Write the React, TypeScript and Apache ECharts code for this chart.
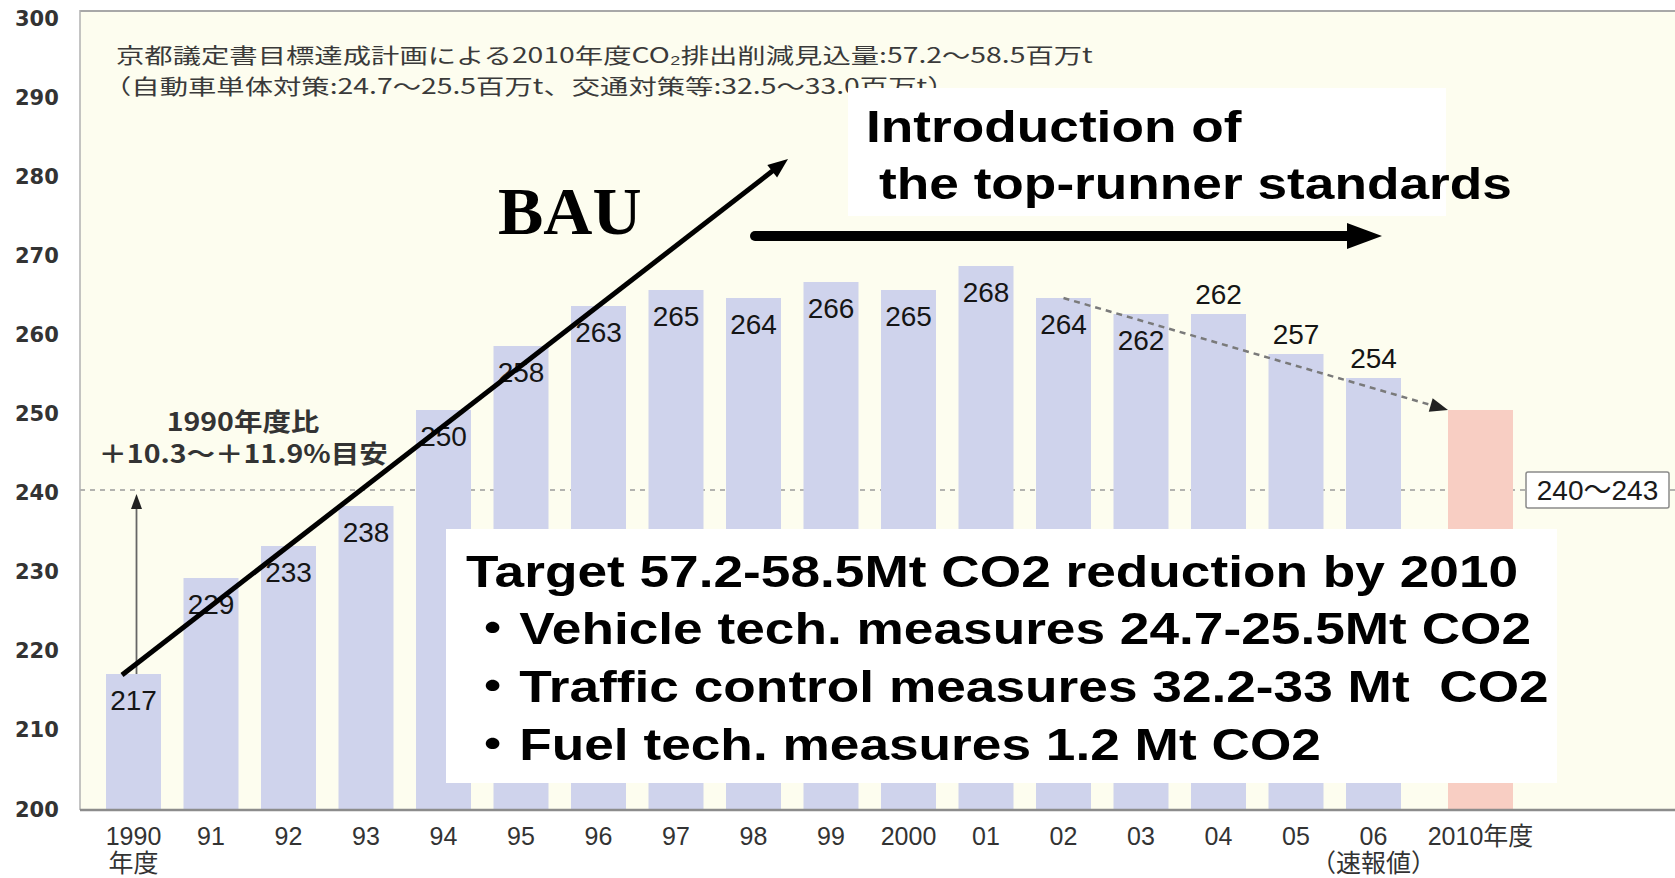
import React, { useEffect, useRef } from 'react';
import * as echarts from 'echarts';

// ---------- data ----------
const yearLabels = ['1990\n年度', '91', '92', '93', '94', '95', '96', '97', '98', '99', '2000', '01', '02', '03', '04', '05', '06\n（速報値）'];
const emissions = [217, 229, 233, 238, 250, 258, 263, 265, 264, 266, 265, 268, 264, 262, 262, 257, 254];
const labelOnTop = [false, false, false, false, false, false, false, false, false, false, false, false, false, false, true, true, true];
const targetYearLabels = ['2010年度'];
const targetEmissions = [250];
const targetLevel = 240;
const targetRangeLabel = '240～243';
const trendStartIndex = 12;
const trendStartValue = 264;
const baseYearIndex = 0;
const baseYearValue = 217;
const yTickValues = [200, 210, 220, 230, 240, 250, 260, 270, 280, 290, 300];
const yMin = 200;
const yMax = 300;
const yStep = 10;

const headerLines = [
  '京都議定書目標達成計画による2010年度CO₂排出削減見込量:57.2～58.5百万t',
  '（自動車単体対策:24.7～25.5百万t、交通対策等:32.5～33.0百万t）',
];
const compareLines = ['1990年度比', '＋10.3～＋11.9%目安'];
const topRunnerLines = ['Introduction of', 'the top-runner standards'];
const bauLabel = 'BAU';
const targetBoxLines = [
  'Target 57.2-58.5Mt CO2 reduction by 2010',
  '・Vehicle tech. measures 24.7-25.5Mt CO2',
  '・Traffic control measures 32.2-33 Mt  CO2',
  '・Fuel tech. measures 1.2 Mt CO2',
];

// ---------- styles ----------
const SANS = "'Liberation Sans', 'Noto Sans CJK JP', sans-serif";
const CJK = "'Noto Sans CJK JP', 'Liberation Sans', sans-serif";
const YFONT = "'DejaVu Sans', sans-serif";
const BAR_COLOR = '#CFD3EC';
const TARGET_COLOR = '#F8CEC3';
const BG = '#FDFDEF';

type Pt = [number, number];

function arrowHead(tip: Pt, from: Pt, len: number, half: number): Pt[] {
  const dx = tip[0] - from[0];
  const dy = tip[1] - from[1];
  const d = Math.hypot(dx, dy);
  const ux = dx / d;
  const uy = dy / d;
  const bx = tip[0] - ux * len;
  const by = tip[1] - uy * len;
  return [
    [tip[0], tip[1]],
    [bx - uy * half, by + ux * half],
    [bx + uy * half, by - ux * half],
  ];
}

function shorten(tip: Pt, from: Pt, by: number): Pt {
  const dx = tip[0] - from[0];
  const dy = tip[1] - from[1];
  const d = Math.hypot(dx, dy);
  return [tip[0] - (dx / d) * by, tip[1] - (dy / d) * by];
}

function txt(text: string, x: number, y: number, o: any) {
  const align = o.align || 'left';
  return {
    type: 'text',
    x,
    y,
    z: o.z ?? 60,
    scaleX: o.scaleX ?? 1,
    style: {
      text,
      fontSize: o.fontSize,
      fontFamily: o.fontFamily,
      fontWeight: o.fontWeight || 'normal',
      fill: o.fill || '#000',
      align,
      verticalAlign: 'middle',
      textAlign: align,
      textVerticalAlign: 'middle',
    },
  };
}

export default function App() {
  const ref = useRef<HTMLDivElement>(null);

  useEffect(() => {
    const chart = echarts.init(ref.current!, null, { renderer: 'svg' });

    const xLabelStyle = {
      interval: 0,
      fontSize: 25,
      fontFamily: SANS,
      color: '#333',
      margin: 12,
      lineHeight: 27,
    };

    // y labels drift slightly downward toward the top of the axis in the reference
    const yRich: any = {};
    yTickValues.forEach((v) => {
      const shift = Math.max(0, ((v - yMin) / (yMax - yMin)) * 10 - 1);
      yRich['t' + v] = {
        fontSize: 21,
        fontFamily: YFONT,
        fontWeight: 'bold',
        color: '#333',
        padding: [shift * 2, 0, 0, 0],
      };
    });

    const option: any = {
      animation: false,
      backgroundColor: '#ffffff',
      grid: [
        { left: 94.75, width: 1317.5, top: 10, bottom: 68, outerBoundsMode: 'none' },
        { left: 1441.75, width: 77.5, top: 10, bottom: 68, outerBoundsMode: 'none' },
      ],
      xAxis: [
        {
          type: 'category',
          gridIndex: 0,
          data: yearLabels,
          axisLine: { show: false },
          axisTick: { show: false },
          axisLabel: xLabelStyle,
        },
        {
          type: 'category',
          gridIndex: 1,
          data: targetYearLabels,
          axisLine: { show: false },
          axisTick: { show: false },
          axisLabel: xLabelStyle,
        },
      ],
      yAxis: [
        {
          type: 'value',
          gridIndex: 0,
          min: yMin,
          max: yMax,
          interval: yStep,
          axisLine: { show: false },
          axisTick: { show: false },
          splitLine: { show: false },
          axisLabel: {
            margin: 36,
            formatter: (v: number) => `{t${v}|${v}}`,
            rich: yRich,
          },
        },
        {
          type: 'value',
          gridIndex: 1,
          min: yMin,
          max: yMax,
          interval: yStep,
          show: false,
          splitLine: { show: false },
        },
      ],
      series: [
        {
          type: 'bar',
          xAxisIndex: 0,
          yAxisIndex: 0,
          barWidth: 55,
          itemStyle: { color: BAR_COLOR },
          label: {
            show: true,
            fontSize: 28,
            fontFamily: SANS,
            color: '#151515',
          },
          data: emissions.map((v, i) => ({
            value: v,
            label: labelOnTop[i]
              ? { position: 'top', distance: 6 }
              : { position: 'insideTop', distance: 12 },
          })),
        },
        {
          type: 'bar',
          xAxisIndex: 1,
          yAxisIndex: 1,
          barWidth: 65,
          itemStyle: { color: TARGET_COLOR },
          label: { show: false },
          data: targetEmissions,
        },
      ],
    };

    chart.setOption(option);

    const px = (grid: number, x: number, y: number): Pt =>
      chart.convertToPixel({ gridIndex: grid } as any, [x, y]) as unknown as Pt;

    const y240 = px(0, 0, targetLevel)[1];
    const yTop = px(0, 0, yMax)[1];
    const yBottom = px(0, 0, yMin)[1];
    const frameLeft = 80;
    const W = 1675;

    const trendStart = px(0, trendStartIndex, trendStartValue);
    const tgt = px(1, 0, targetEmissions[0]);
    const trendEnd: Pt = [tgt[0] - 32.5, tgt[1]];

    const baseBottom = px(0, baseYearIndex, baseYearValue);
    const baseTop = px(0, baseYearIndex, targetLevel);
    const vFrom: Pt = [baseBottom[0] + 3, baseBottom[1]];
    const vTip: Pt = [baseTop[0] + 3, baseTop[1] + 4];

    const bauFrom: Pt = [122, 675];
    const bauTip: Pt = [788, 159];

    const hFrom: Pt = [755, 236];
    const hTip: Pt = [1382, 236];

    const elements: any[] = [
      {
        type: 'rect',
        z: -20,
        shape: { x: frameLeft, y: yTop, width: W - frameLeft + 10, height: yBottom - yTop },
        style: { fill: BG },
      },
      {
        type: 'line',
        z: -5,
        shape: { x1: frameLeft, y1: y240, x2: W, y2: y240 },
        style: { stroke: '#9a9a9a', lineWidth: 1.5, lineDash: [5, 5] },
      },
      {
        type: 'line',
        z: 10,
        shape: { x1: frameLeft, y1: yTop + 1, x2: W, y2: yTop + 1 },
        style: { stroke: '#a8a8a8', lineWidth: 2 },
      },
      {
        type: 'line',
        z: 10,
        shape: { x1: frameLeft, y1: yTop, x2: frameLeft, y2: yBottom },
        style: { stroke: '#b0b0b0', lineWidth: 1.5 },
      },
      {
        type: 'line',
        z: 10,
        shape: { x1: frameLeft, y1: yBottom, x2: W, y2: yBottom },
        style: { stroke: '#8c8c8c', lineWidth: 2.5 },
      },
      txt(headerLines[0], 116, 54, { fontSize: 21, fontFamily: CJK, fill: '#3a3a3a', scaleX: 1.35, z: 50 }),
      txt(headerLines[1], 103, 85, { fontSize: 21, fontFamily: CJK, fill: '#3a3a3a', scaleX: 1.35, z: 50 }),
      {
        type: 'rect',
        z: 51,
        shape: { x: 848, y: 88, width: 598, height: 128 },
        style: { fill: '#ffffff' },
      },
      txt(topRunnerLines[0], 866, 127, { fontSize: 44, fontFamily: SANS, fontWeight: 'bold', scaleX: 1.21, z: 52 }),
      txt(topRunnerLines[1], 879, 184, { fontSize: 44, fontFamily: SANS, fontWeight: 'bold', scaleX: 1.21, z: 52 }),
      {
        type: 'line',
        z: 53,
        shape: { x1: hFrom[0], y1: hFrom[1], x2: hTip[0] - 30, y2: hTip[1] },
        style: { stroke: '#000', lineWidth: 10, lineCap: 'round' },
      },
      {
        type: 'polygon',
        z: 53,
        shape: { points: arrowHead(hTip, hFrom, 35, 13) },
        style: { fill: '#000' },
      },
      txt(bauLabel, 498, 211, { fontSize: 68, fontFamily: "'Liberation Serif', serif", fontWeight: 'bold', z: 53 }),
      {
        type: 'line',
        z: 53,
        shape: { x1: bauFrom[0], y1: bauFrom[1], x2: shorten(bauTip, bauFrom, 14)[0], y2: shorten(bauTip, bauFrom, 14)[1] },
        style: { stroke: '#000', lineWidth: 5 },
      },
      {
        type: 'polygon',
        z: 53,
        shape: { points: arrowHead(bauTip, bauFrom, 20, 8) },
        style: { fill: '#000' },
      },
      txt(compareLines[0], 243, 420, { fontSize: 25, fontFamily: CJK, fontWeight: 'bold', fill: '#333', scaleX: 1.14, align: 'center', z: 50 }),
      txt(compareLines[1], 243, 452, { fontSize: 25, fontFamily: CJK, fontWeight: 'bold', fill: '#333', scaleX: 1.14, align: 'center', z: 50 }),
      {
        type: 'line',
        z: 50,
        shape: { x1: vFrom[0], y1: vFrom[1], x2: vTip[0], y2: vTip[1] + 12 },
        style: { stroke: '#666', lineWidth: 1.8 },
      },
      {
        type: 'polygon',
        z: 50,
        shape: { points: arrowHead(vTip, vFrom, 15, 5.5) },
        style: { fill: '#222' },
      },
      {
        type: 'line',
        z: 50,
        shape: { x1: trendStart[0], y1: trendStart[1], x2: shorten(trendEnd, trendStart, 12)[0], y2: shorten(trendEnd, trendStart, 12)[1] },
        style: { stroke: '#7a7a7a', lineWidth: 2.5, lineDash: [6, 5] },
      },
      {
        type: 'polygon',
        z: 50,
        shape: { points: arrowHead(trendEnd, trendStart, 18, 7) },
        style: { fill: '#222' },
      },
      {
        type: 'rect',
        z: 50,
        shape: { x: 1526, y: y240 - 18, width: 143, height: 36, r: 2 },
        style: { fill: '#ffffff', stroke: '#8a8a8a', lineWidth: 1.5 },
      },
      txt(targetRangeLabel, 1597.5, y240, { fontSize: 28, fontFamily: SANS, fill: '#1a1a1a', align: 'center', z: 51 }),
      {
        type: 'rect',
        z: 51,
        shape: { x: 446, y: 529, width: 1111, height: 254 },
        style: { fill: '#ffffff' },
      },
      ...targetBoxLines.map((t, i) =>
        txt(t, 466, [572, 629, 687, 745][i], { fontSize: 44, fontFamily: SANS, fontWeight: 'bold', scaleX: 1.21, z: 52 })
      ),
    ];

    chart.setOption({ graphic: { elements } });

    return () => chart.dispose();
  }, []);

  return (
    <div
      ref={ref}
      style={{ position: 'absolute', left: 0, top: 0, width: 1675, height: 878 }}
    />
  );
}
